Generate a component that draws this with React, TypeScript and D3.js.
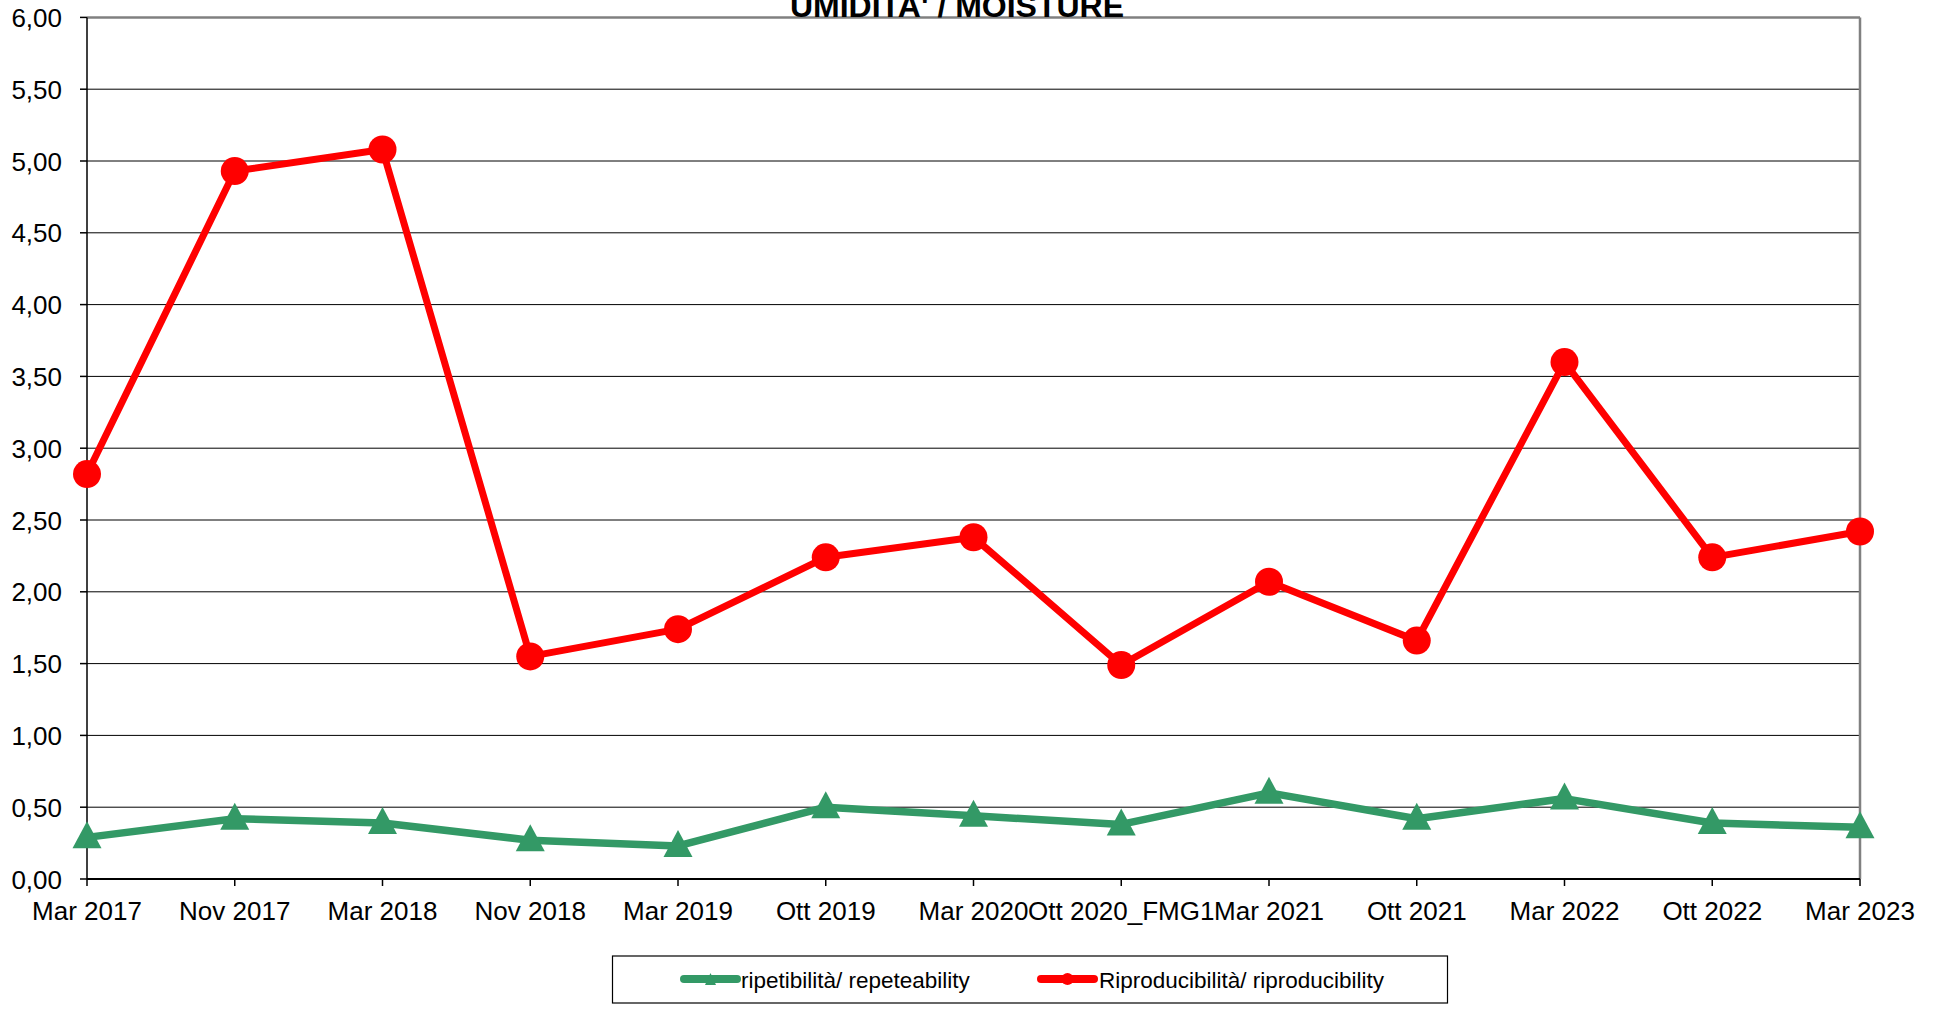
import React from "react";
import * as d3 from "d3";

const categories = [
  "Mar 2017", "Nov 2017", "Mar 2018", "Nov 2018", "Mar 2019", "Ott 2019",
  "Mar 2020", "Ott 2020_FMG1", "Mar 2021", "Ott 2021", "Mar 2022", "Ott 2022", "Mar 2023",
];
const repeatability = [0.29, 0.42, 0.39, 0.27, 0.23, 0.50, 0.44, 0.38, 0.60, 0.42, 0.56, 0.39, 0.36];
const reproducibility = [2.82, 4.93, 5.08, 1.55, 1.74, 2.24, 2.38, 1.49, 2.07, 1.66, 3.60, 2.24, 2.42];
const yTicks = [0, 0.5, 1, 1.5, 2, 2.5, 3, 3.5, 4, 4.5, 5, 5.5, 6];
const title = "UMIDITA' / MOISTURE";
const seriesNames = ["ripetibilità/ repeteability", "Riproducibilità/ riproducibility"];

const W = 1944;
const H = 1009;
const LEFT = 87;
const RIGHT = 1860;
const TOP = 17.4;
const BOTTOM = 879;
const GREEN = "#339966";
const RED = "#FF0000";
const FONT = "'Liberation Sans', Arial, sans-serif";

export default function App() {
  const x = d3.scalePoint<string>().domain(categories).range([LEFT, RIGHT]);
  const y = d3.scaleLinear().domain([0, 6]).range([BOTTOM, TOP]);
  const fmt = (v: number) => v.toFixed(2).replace(".", ",");

  const line = d3
    .line<number>()
    .x((_, i) => x(categories[i]) as number)
    .y((d) => y(d));

  const tri = (cx: number, cy: number, w: number, h: number) =>
    `M${cx},${cy - (h * 2) / 3 + 2}L${cx + w / 2},${cy + h / 3 + 2}L${cx - w / 2},${cy + h / 3 + 2}Z`;

  return (
    <svg
      width={W}
      height={H}
      style={{ position: "absolute", left: 0, top: 0, background: "#fff" }}
      fontFamily={FONT}
    >
      <rect x={0} y={0} width={W} height={H} fill="#fff" />
      {yTicks.map((t) => (
        <line
          key={"g" + t}
          x1={LEFT}
          x2={RIGHT}
          y1={y(t)}
          y2={y(t)}
          stroke={t === 6 ? "#808080" : "#000"}
          strokeWidth={t === 6 ? 2.5 : 1}
        />
      ))}
      <line x1={RIGHT} x2={RIGHT} y1={TOP} y2={BOTTOM} stroke="#808080" strokeWidth={2.5} />
      <line x1={LEFT} x2={LEFT} y1={TOP} y2={BOTTOM} stroke="#000" strokeWidth={1.5} />
      {yTicks.map((t) => (
        <g key={"y" + t}>
          <line x1={LEFT - 7} x2={LEFT} y1={y(t)} y2={y(t)} stroke="#000" strokeWidth={1.5} />
          <text x={62} y={y(t) + 9.5} textAnchor="end" fontSize={26} fill="#000">
            {fmt(t)}
          </text>
        </g>
      ))}
      <line x1={LEFT} x2={RIGHT} y1={BOTTOM} y2={BOTTOM} stroke="#000" strokeWidth={2} />
      {categories.map((c) => (
        <g key={"x" + c}>
          <line x1={x(c)} x2={x(c)} y1={BOTTOM} y2={BOTTOM + 7} stroke="#000" strokeWidth={1.5} />
          <text x={x(c)} y={920} textAnchor="middle" fontSize={26} fill="#000">
            {c}
          </text>
        </g>
      ))}
      <text x={957} y={17} textAnchor="middle" fontSize={32} fontWeight="bold" fill="#000">
        {title}
      </text>
      <path d={line(repeatability) || ""} fill="none" stroke={GREEN} strokeWidth={7.5} strokeLinejoin="round" />
      {repeatability.map((v, i) => (
        <path key={"t" + i} d={tri(x(categories[i]) as number, y(v), 29, 27)} fill={GREEN} />
      ))}
      <path d={line(reproducibility) || ""} fill="none" stroke={RED} strokeWidth={7} strokeLinejoin="round" />
      {reproducibility.map((v, i) => (
        <circle key={"c" + i} cx={x(categories[i])} cy={y(v)} r={14} fill={RED} />
      ))}
      <rect x={612.5} y={956} width={835} height={47} fill="#fff" stroke="#000" strokeWidth={1.2} />
      <line x1={684} x2={737} y1={979} y2={979} stroke={GREEN} strokeWidth={8} strokeLinecap="round" />
      <path d={tri(710.5, 979, 11, 12)} fill={GREEN} />
      <text x={741} y={987.5} fontSize={22.5} fill="#000">
        {seriesNames[0]}
      </text>
      <line x1={1041} x2={1094} y1={979} y2={979} stroke={RED} strokeWidth={8} strokeLinecap="round" />
      <circle cx={1067.5} cy={979} r={6} fill={RED} />
      <text x={1099} y={987.5} fontSize={22.5} fill="#000">
        {seriesNames[1]}
      </text>
    </svg>
  );
}
